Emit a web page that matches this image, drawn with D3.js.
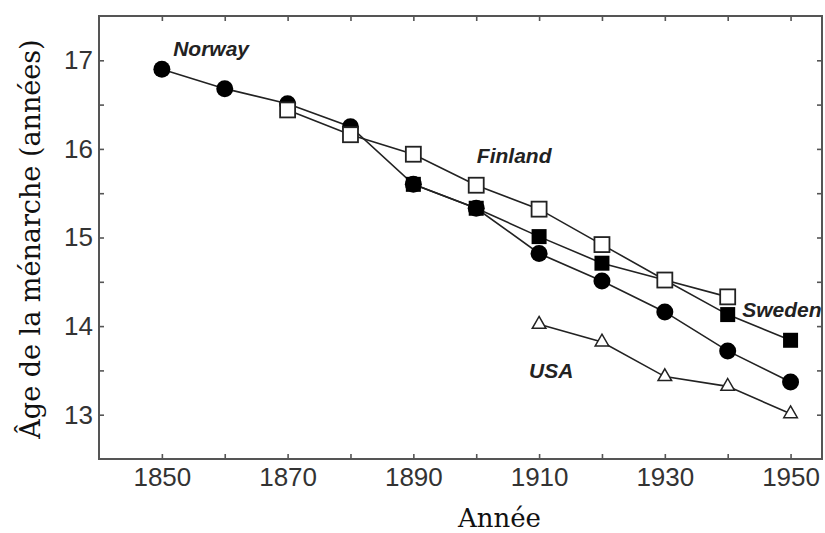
<!DOCTYPE html>
<html>
<head>
<meta charset="utf-8">
<script src="https://cdn.jsdelivr.net/npm/d3@7"></script>
<style>
  body { margin: 0; background: #fff; }
  svg { display: block; }
</style>
</head>
<body>
<svg id="chart" width="825" height="533"></svg>
<script>
// decades on the x axis
const years = [1850, 1860, 1870, 1880, 1890, 1900, 1910, 1920, 1930, 1940, 1950];
const yTicks = [13, 13.5, 14, 14.5, 15, 15.5, 16, 16.5, 17];

// age at menarche
const norwayYears = [1850, 1860, 1870, 1880, 1890, 1900, 1910, 1920, 1930, 1940, 1950];
const norwayAge = [16.9, 16.68, 16.51, 16.25, 15.6, 15.33, 14.82, 14.51, 14.16, 13.72, 13.37];
const swedenYears = [1890, 1900, 1910, 1920, 1930, 1940, 1950];
const swedenAge = [15.6, 15.33, 15.01, 14.71, 14.52, 14.13, 13.84];
const finlandYears = [1870, 1880, 1890, 1900, 1910, 1920, 1930, 1940];
const finlandAge = [16.44, 16.16, 15.94, 15.59, 15.32, 14.92, 14.52, 14.33];
const usaYears = [1910, 1920, 1930, 1940, 1950];
const usaAge = [14.02, 13.82, 13.43, 13.32, 13.01];

const series = [
  { id: 'Norway', years: norwayYears, ages: norwayAge, shape: 'circle' },
  { id: 'Sweden', years: swedenYears, ages: swedenAge, shape: 'fsquare' },
  { id: 'Finland', years: finlandYears, ages: finlandAge, shape: 'osquare' },
  { id: 'USA', years: usaYears, ages: usaAge, shape: 'triangle' }
];

const labels = [
  { text: 'Norway', year: 1851.8, age: 17.05 },
  { text: 'Finland', year: 1900.1, age: 15.84 },
  { text: 'Sweden', year: 1942.3, age: 14.10 },
  { text: 'USA', year: 1908.4, age: 13.41 }
];

const margin = { top: 16, right: 3, bottom: 74, left: 99 };
const width = 825 - margin.left - margin.right;
const height = 533 - margin.top - margin.bottom;

const svg = d3.select('#chart');
const g = svg.append('g').attr('transform', 'translate(' + margin.left + ',' + margin.top + ')');

const x = d3.scaleLinear().domain([1840, 1955]).range([0, width]);
const y = d3.scaleLinear().domain([12.5, 17.5]).range([height, 0]);

const tickColor = '#555';
const labelFont = '"Liberation Sans", Arial, sans-serif';

function styleAxis(sel) {
  sel.select('.domain').remove();
  sel.selectAll('.tick line').attr('stroke', tickColor).attr('stroke-width', 1.6);
  sel.selectAll('.tick text')
    .attr('fill', '#333')
    .style('font-family', labelFont)
    .style('font-size', '26px');
}

// bottom
g.append('g')
  .attr('transform', 'translate(0,' + height + ')')
  .call(d3.axisBottom(x).tickValues(years).tickSizeInner(-5).tickSizeOuter(0).tickPadding(9)
    .tickFormat((d) => (d % 20 === 10 ? d : '')))
  .call(styleAxis);
// top
g.append('g')
  .call(d3.axisTop(x).tickValues(years).tickSizeInner(-5).tickSizeOuter(0).tickFormat(''))
  .call(styleAxis);
// left
g.append('g')
  .call(d3.axisLeft(y).tickValues(yTicks).tickSizeInner(-5).tickSizeOuter(0).tickPadding(6)
    .tickFormat((d) => (Number.isInteger(d) ? d : '')))
  .call(styleAxis);
// right
g.append('g')
  .attr('transform', 'translate(' + width + ',0)')
  .call(d3.axisRight(y).tickValues(yTicks).tickSizeInner(-5).tickSizeOuter(0).tickFormat(''))
  .call(styleAxis);

// frame
g.append('rect')
  .attr('x', 0).attr('y', 0)
  .attr('width', width).attr('height', height)
  .attr('fill', 'none')
  .attr('stroke', tickColor)
  .attr('stroke-width', 2);

const line = d3.line()
  .x((d) => x(d[0]))
  .y((d) => y(d[1]));

series.forEach((s) => {
  const pts = s.years.map((yr, i) => [yr, s.ages[i]]);
  const sg = g.append('g').attr('class', 'series');
  sg.append('path')
    .attr('d', line(pts))
    .attr('fill', 'none')
    .attr('stroke', '#222')
    .attr('stroke-width', 1.6);

  const m = sg.selectAll('.mark').data(pts).enter();
  if (s.shape === 'circle') {
    m.append('circle')
      .attr('cx', (d) => x(d[0])).attr('cy', (d) => y(d[1]))
      .attr('r', 8.5)
      .attr('fill', '#000');
  } else if (s.shape === 'fsquare') {
    m.append('rect')
      .attr('x', (d) => x(d[0]) - 7.5).attr('y', (d) => y(d[1]) - 7.5)
      .attr('width', 15).attr('height', 15)
      .attr('fill', '#000');
  } else if (s.shape === 'osquare') {
    m.append('rect')
      .attr('x', (d) => x(d[0]) - 7.5).attr('y', (d) => y(d[1]) - 7.5)
      .attr('width', 15).attr('height', 15)
      .attr('fill', '#fff')
      .attr('stroke', '#222')
      .attr('stroke-width', 1.8);
  } else {
    m.append('path')
      .attr('transform', (d) => 'translate(' + x(d[0]) + ',' + y(d[1]) + ')')
      .attr('d', d3.symbol().type(d3.symbolTriangle).size(80))
      .attr('fill', '#fff')
      .attr('stroke', '#222')
      .attr('stroke-width', 1.5);
  }
});

// series names
g.selectAll('.slabel').data(labels).enter()
  .append('text')
  .attr('x', (d) => x(d.year))
  .attr('y', (d) => y(d.age))
  .attr('fill', '#222')
  .style('font-family', labelFont)
  .style('font-size', '21px')
  .style('font-weight', 'bold')
  .style('font-style', 'italic')
  .text((d) => d.text);

// axis titles
svg.append('text')
  .attr('x', margin.left + x(1903.7))
  .attr('y', 527)
  .attr('text-anchor', 'middle')
  .attr('fill', '#111')
  .style('font-family', '"DejaVu Serif", serif')
  .style('font-size', '26px')
  .text('Année');

svg.append('text')
  .attr('transform', 'translate(40,239) rotate(-90)')
  .attr('text-anchor', 'middle')
  .attr('fill', '#111')
  .style('font-family', '"DejaVu Serif", serif')
  .style('font-size', '27px')
  .text('Âge de la ménarche (années)');
</script>
</body>
</html>
